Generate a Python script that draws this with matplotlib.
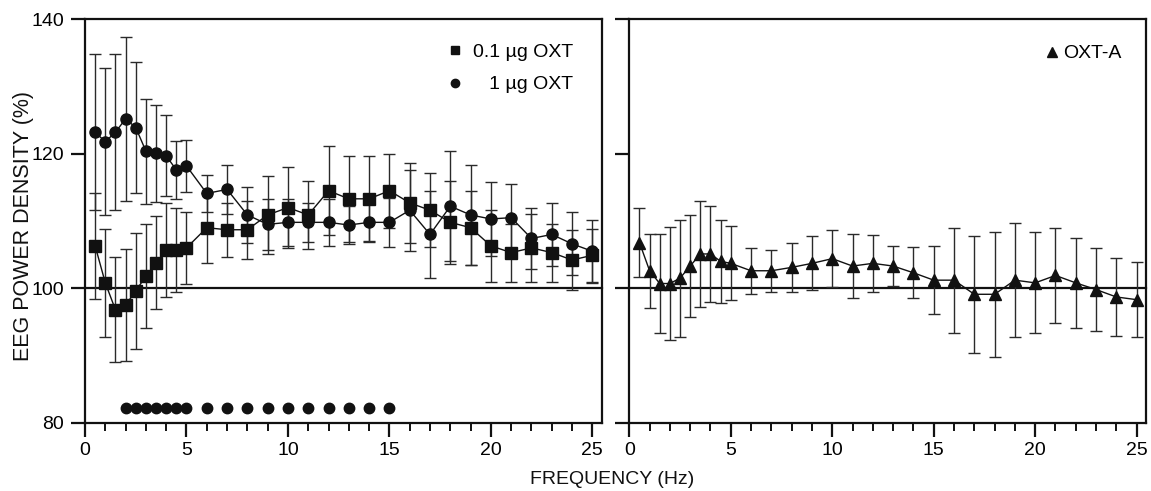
import matplotlib
matplotlib.use("Agg")
import matplotlib.pyplot as plt
from matplotlib.ticker import MultipleLocator

plt.rcParams['font.family'] = ['Liberation Sans', 'DejaVu Sans']

freq = [0.5, 1, 1.5, 2, 2.5, 3, 3.5, 4, 4.5, 5,
        6, 7, 8, 9, 10, 11, 12, 13, 14, 15,
        16, 17, 18, 19, 20, 21, 22, 23, 24, 25]

oxt01 = [106.3, 100.8, 96.8, 97.5, 99.6, 101.8, 103.8, 105.7, 105.7, 106.0,
         109.0, 108.7, 108.7, 110.9, 112.0, 110.9, 114.5, 113.3, 113.3, 114.5,
         112.7, 111.6, 109.8, 109.0, 106.3, 105.3, 106.0, 105.3, 104.2, 104.9]
oxt01_err = [7.9, 8.0, 7.8, 8.3, 8.6, 7.7, 6.9, 7.0, 6.2, 5.3,
             5.2, 4.0, 4.3, 5.8, 6.0, 5.1, 6.6, 6.4, 6.4, 5.5,
             6.0, 5.5, 6.2, 5.5, 5.3, 4.3, 5.0, 4.3, 4.5, 3.9]

oxt1 = [123.2, 121.8, 123.2, 125.2, 123.9, 120.4, 120.1, 119.7, 117.6, 118.2,
        114.1, 114.7, 110.9, 109.5, 109.8, 109.8, 109.8, 109.4, 109.8, 109.8,
        111.6, 108.0, 112.2, 110.9, 110.3, 110.5, 107.4, 108.0, 106.6, 105.5]
oxt1_err = [11.6, 10.9, 11.6, 12.2, 9.8, 7.8, 7.2, 6.0, 4.3, 3.9,
            2.8, 3.6, 4.2, 3.8, 3.5, 2.9, 3.5, 2.8, 2.8, 3.6,
            6.0, 6.5, 8.2, 7.4, 5.5, 5.0, 4.6, 4.7, 4.7, 4.7]

oxta = [106.8, 102.6, 100.7, 100.7, 101.5, 103.3, 105.1, 105.1, 104.0, 103.7,
        102.6, 102.6, 103.1, 103.7, 104.4, 103.3, 103.7, 103.3, 102.3, 101.2,
        101.2, 99.1, 99.1, 101.2, 100.8, 101.9, 100.8, 99.8, 98.7, 98.3]
oxta_err = [5.1, 5.5, 7.4, 8.4, 8.7, 7.6, 7.9, 7.2, 6.2, 5.5,
            3.4, 3.1, 3.6, 4.0, 4.2, 4.7, 4.2, 3.0, 3.8, 5.1,
            7.8, 8.7, 9.3, 8.5, 7.5, 7.0, 6.7, 6.2, 5.8, 5.6]

sig_freq = [2, 2.5, 3, 3.5, 4, 4.5, 5, 6, 7, 8, 9, 10, 11, 12, 13, 14, 15]
sig_level = 82.2

baseline = 100
yticks = [80, 100, 120, 140]
xticks = [0, 5, 10, 15, 20, 25]

W, H = 1151, 491
fig = plt.figure(figsize=(W / 100, H / 100), dpi=100)
ax1 = fig.add_axes([85 / W, 1 - 422.7 / H, 516.5 / W, 403.4 / H])
ax2 = fig.add_axes([629.3 / W, 1 - 422.7 / H, 516.5 / W, 403.4 / H])

FS = 14
ecol = '#2a2a2a'
ekw = dict(ecolor=ecol, elinewidth=1.0, capsize=4, capthick=1.0, zorder=2)

for ax in (ax1, ax2):
    ax.set_xlim(0, 25.45)
    ax.set_ylim(80, 140)
    ax.axhline(baseline, color='#111111', lw=1.6, zorder=1, clip_on=False)
    for s in ax.spines.values():
        s.set_linewidth(1.6)
        s.set_color('#111111')
    ax.set_xticks(xticks)
    ax.xaxis.set_minor_locator(MultipleLocator(1))
    ax.set_yticks(yticks)
    ax.tick_params(axis='x', which='major', length=10, width=1.6, direction='out',
                   labelsize=FS, pad=4, color='#111111')
    ax.tick_params(axis='x', which='minor', length=6, width=1.4, direction='out',
                   color='#111111')
    ax.tick_params(axis='y', which='major', length=10, width=1.6, direction='out',
                   labelsize=FS, pad=5, color='#111111')

# left panel
ax1.errorbar(freq, oxt1, yerr=oxt1_err, fmt='none', **ekw)
ax1.errorbar(freq, oxt01, yerr=oxt01_err, fmt='none', **ekw)
ax1.plot(freq, oxt1, '-', color='#111111', lw=1.0, marker='o', ms=8,
         mfc='#111111', mec='#111111', zorder=3)
ax1.plot(freq, oxt01, '-', color='#111111', lw=1.0, marker='s', ms=8,
         mfc='#111111', mec='#111111', zorder=4)
ax1.plot(sig_freq, [sig_level] * len(sig_freq), 'o', ls='none', ms=7.5,
         color='#111111', zorder=3)

h1 = plt.Line2D([], [], marker='s', ls='none', ms=6, color='#111111')
h2 = plt.Line2D([], [], marker='o', ls='none', ms=6, color='#111111')
ax1.legend([h1, h2], ['0.1 \u00b5g OXT', '   1 \u00b5g OXT'], loc='upper right',
           frameon=False, fontsize=FS, handlelength=0.6, handletextpad=0.6,
           labelspacing=0.75, borderaxespad=0.6, bbox_to_anchor=(0.982, 0.988))

# right panel
ax2.errorbar(freq, oxta, yerr=oxta_err, fmt='none', **ekw)
ax2.plot(freq, oxta, '-', color='#111111', lw=1.0, marker='^', ms=8.5,
         mfc='#111111', mec='#111111', zorder=3)
ax2.set_yticklabels([])
h3 = plt.Line2D([], [], marker='^', ls='none', ms=7, color='#111111')
ax2.legend([h3], ['OXT-A'], loc='upper right', frameon=False, fontsize=FS,
           handlelength=0.5, handletextpad=0.3, borderaxespad=0.6,
           bbox_to_anchor=(0.99, 0.985))

fig.text(24 / W, 1 - 226 / H, 'EEG POWER DENSITY (%)', rotation=90,
         ha='center', va='center', fontsize=15.5, color='#111111')
fig.text(612 / W, 1 - 479 / H, 'FREQUENCY (Hz)', ha='center', va='center',
         fontsize=FS, color='#111111')

fig.savefig('out.png', dpi=100)
